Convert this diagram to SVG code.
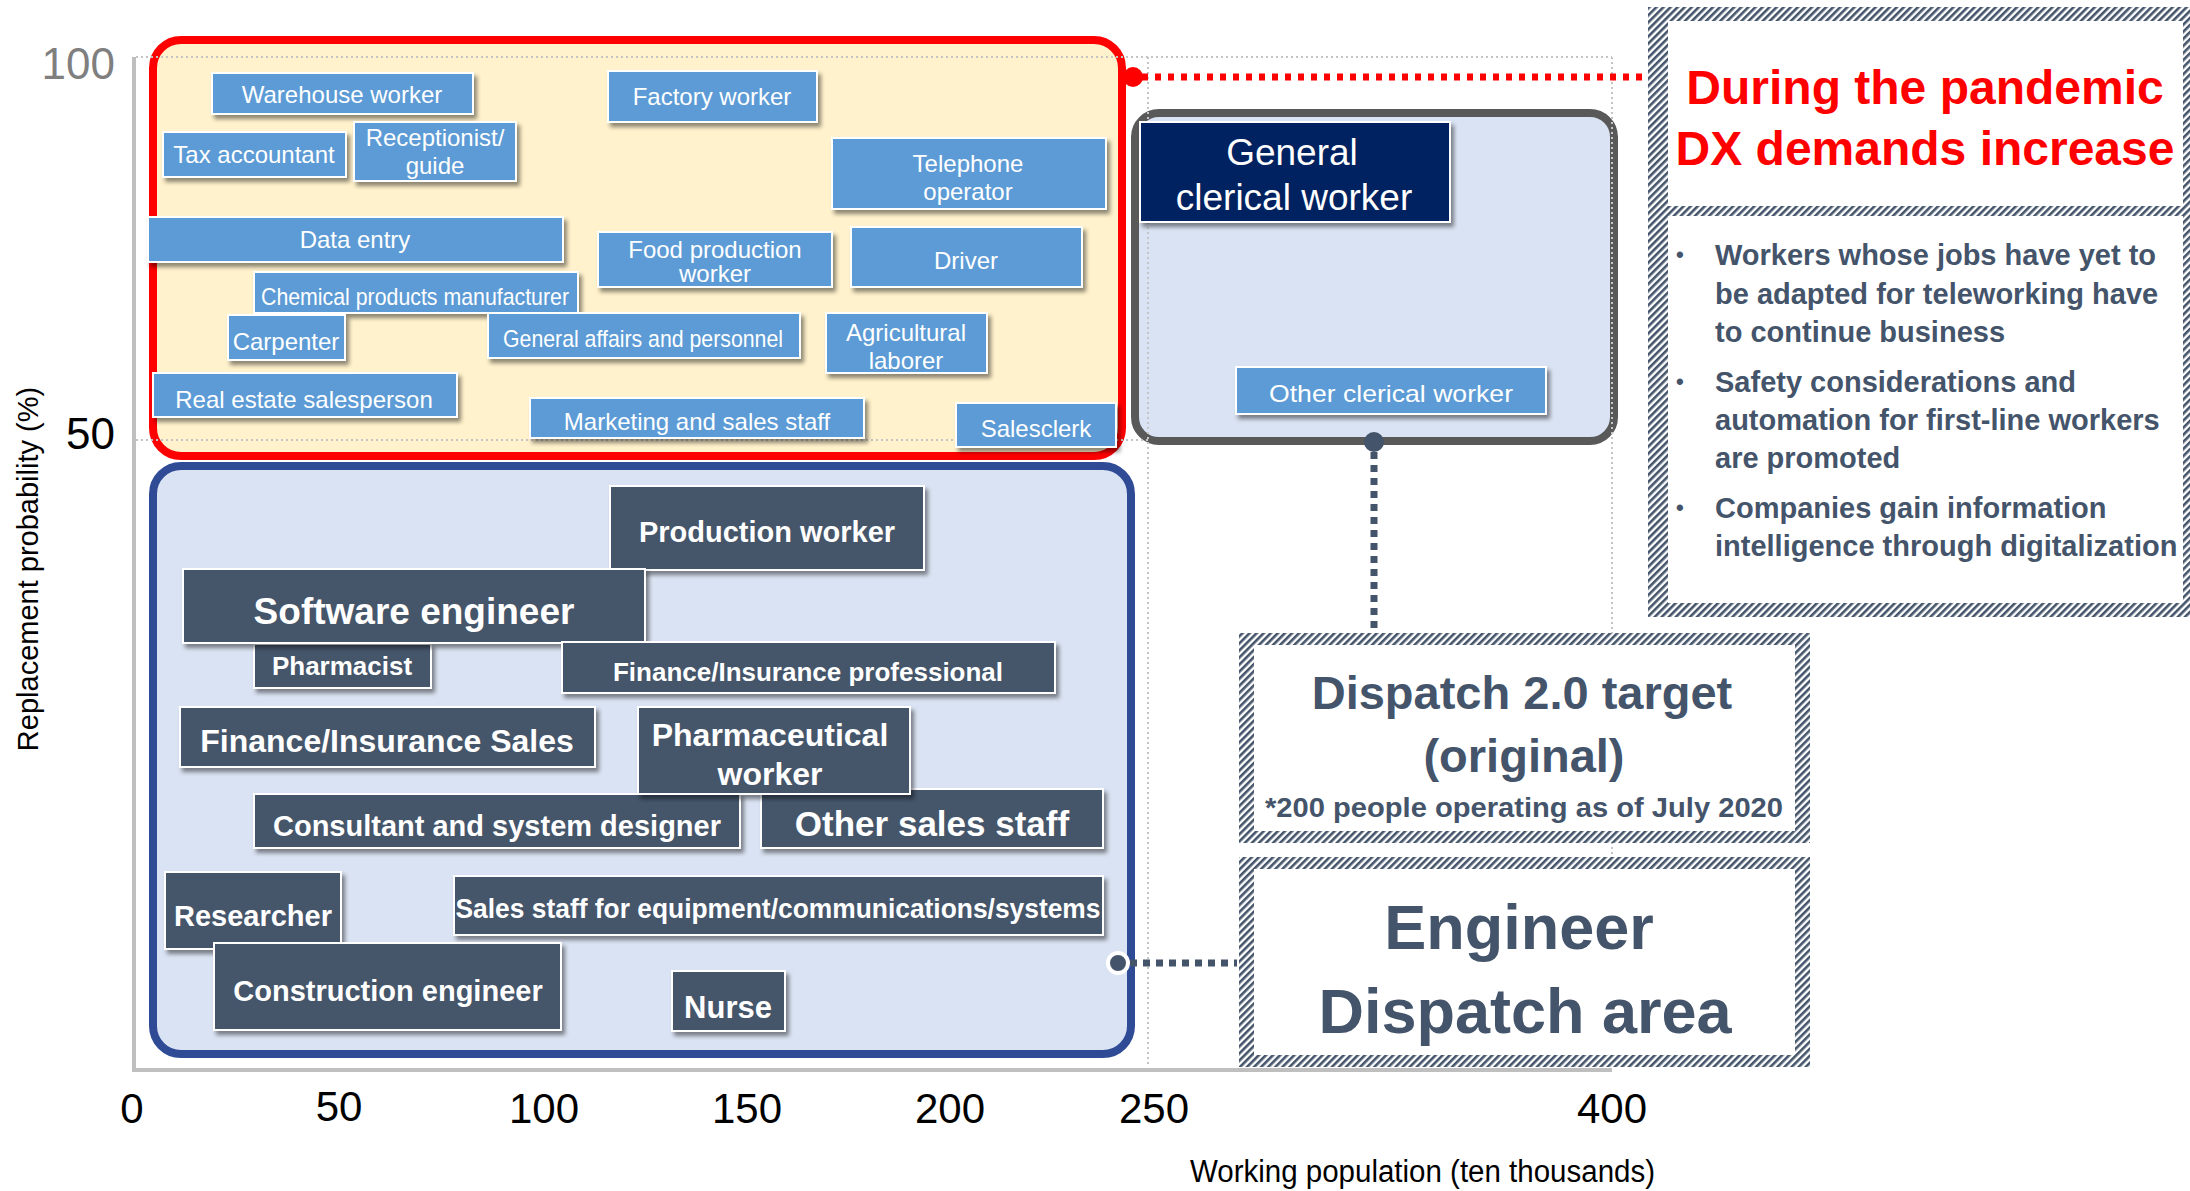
<svg xmlns="http://www.w3.org/2000/svg" width="2190" height="1191" viewBox="0 0 2190 1191">
  <defs>
    <filter id="sh" x="-10%" y="-20%" width="130%" height="160%">
      <feDropShadow dx="3" dy="4" stdDeviation="2" flood-color="#000" flood-opacity="0.45"/>
    </filter>
    <pattern id="hatch" patternUnits="userSpaceOnUse" width="5" height="5" patternTransform="rotate(45)">
      <rect width="5" height="5" fill="#ffffff"/>
      <rect width="2.6" height="5" fill="#44546a"/>
    </pattern>
    <style>
      text { font-family: "Liberation Sans", Arial, sans-serif; }
      .grid { stroke: #c4c4c4; stroke-width: 2; stroke-dasharray: 2 3; fill: none; }
      .axis { stroke: #bfbfbf; stroke-width: 4; fill: none; }
      .lb { fill: #5b9bd5; stroke: #ffffff; stroke-width: 2; filter: url(#sh); }
      .dk { fill: #44546a; stroke: #ffffff; stroke-width: 2; filter: url(#sh); }
      .nv { fill: #002060; stroke: #ffffff; stroke-width: 2; filter: url(#sh); }
      .lt { fill: #ffffff; font-size: 24px; text-anchor: middle; }
      .dt { fill: #ffffff; font-weight: bold; text-anchor: middle; }
      .tick { fill: #000000; font-size: 42px; text-anchor: middle; }
      .slate { fill: #44546a; font-weight: bold; }
      .dash { stroke: #44546a; stroke-width: 7; stroke-dasharray: 7 6; fill: none; }
    </style>
  </defs>

  <!-- axes -->
  <g id="axes">
    <line class="axis" x1="134" y1="57" x2="134" y2="1072"/>
    <line class="axis" x1="132" y1="1070" x2="1612" y2="1070"/>
    <text x="115" y="79" font-size="44" fill="#7f7f7f" text-anchor="end">100</text>
    <text x="115" y="449" font-size="44" fill="#000000" text-anchor="end">50</text>
    <text class="tick" x="132" y="1123">0</text>
    <text class="tick" x="339" y="1121">50</text>
    <text class="tick" x="544" y="1123">100</text>
    <text class="tick" x="747" y="1123">150</text>
    <text class="tick" x="950" y="1123">200</text>
    <text class="tick" x="1154" y="1123">250</text>
    <text class="tick" x="1612" y="1123">400</text>
    <text x="38" y="569" font-size="29" fill="#000000" text-anchor="middle" transform="rotate(-90 38 569)">Replacement probability (%)</text>
    <text x="1190" y="1182" font-size="31" fill="#000000" textLength="465" lengthAdjust="spacingAndGlyphs">Working population (ten thousands)</text>
  </g>

  <!-- regions -->
  <g id="region-high">
    <rect x="153" y="40" width="969" height="416" rx="28" fill="#fff2cc" stroke="#ff0000" stroke-width="8"/>
  </g>
  <g id="region-low">
    <rect x="153" y="466" width="978" height="588" rx="28" fill="#dae3f3" stroke="#2f4b96" stroke-width="8"/>
  </g>
  <g id="region-clerical">
    <rect x="1135" y="113" width="479" height="328" rx="24" fill="#dae3f3" stroke="#595959" stroke-width="8"/>
  </g>

  <!-- grid -->
  <g id="grid">
    <line class="grid" x1="136" y1="57" x2="1612" y2="57"/>
    <line class="grid" x1="136" y1="440" x2="1148" y2="440"/>
    <line class="grid" x1="1148" y1="57" x2="1148" y2="1066"/>
    <line class="grid" x1="1612" y1="57" x2="1612" y2="1066"/>
  </g>

  <!-- connectors -->
  <g id="connectors">
    <line x1="1142" y1="77" x2="1648" y2="77" stroke="#ff0000" stroke-width="7" stroke-dasharray="6 7"/>
    <circle cx="1133" cy="77" r="10" fill="#ff0000"/>
    <line class="dash" x1="1374" y1="452" x2="1374" y2="632"/>
    <circle cx="1374" cy="442" r="10" fill="#44546a"/>
    <line class="dash" x1="1130" y1="963" x2="1237" y2="963"/>
    <circle cx="1118" cy="963" r="10" fill="#44546a" stroke="#ffffff" stroke-width="4"/>
  </g>

  <!-- high replacement probability occupations -->
  <g id="n-warehouse"><rect class="lb" x="212" y="73" width="261" height="41"/><text class="lt" x="342" y="103">Warehouse worker</text></g>
  <g id="n-tax"><rect class="lb" x="163" y="132" width="183" height="45"/><text class="lt" x="254" y="163">Tax accountant</text></g>
  <g id="n-reception"><rect class="lb" x="354" y="122" width="162" height="59"/><text class="lt"><tspan x="435" y="146">Receptionist/</tspan><tspan x="435" y="174">guide</tspan></text></g>
  <g id="n-factory"><rect class="lb" x="608" y="71" width="209" height="51"/><text class="lt" x="712" y="105">Factory worker</text></g>
  <g id="n-telephone"><rect class="lb" x="832" y="138" width="274" height="71"/><text class="lt"><tspan x="968" y="172">Telephone</tspan><tspan x="968" y="200">operator</tspan></text></g>
  <g id="n-data"><rect class="lb" x="148" y="217" width="415" height="45"/><text class="lt" x="355" y="248">Data entry</text></g>
  <g id="n-food"><rect class="lb" x="598" y="232" width="234" height="55"/><text class="lt"><tspan x="715" y="258">Food production</tspan><tspan x="715" y="282">worker</tspan></text></g>
  <g id="n-driver"><rect class="lb" x="851" y="227" width="231" height="60"/><text class="lt" x="966" y="269">Driver</text></g>
  <g id="n-chemical"><rect class="lb" x="254" y="272" width="324" height="41"/><text class="lt" x="415" y="305" font-size="21" textLength="308" lengthAdjust="spacingAndGlyphs">Chemical products manufacturer</text></g>
  <g id="n-carpenter"><rect class="lb" x="228" y="315" width="117" height="45"/><text class="lt" x="286" y="350">Carpenter</text></g>
  <g id="n-general-affairs"><rect class="lb" x="488" y="313" width="312" height="45"/><text class="lt" x="643" y="347" font-size="21" textLength="280" lengthAdjust="spacingAndGlyphs">General affairs and personnel</text></g>
  <g id="n-agri"><rect class="lb" x="826" y="313" width="161" height="60"/><text class="lt"><tspan x="906" y="341">Agricultural</tspan><tspan x="906" y="369">laborer</tspan></text></g>
  <g id="n-realestate"><rect class="lb" x="153" y="373" width="304" height="44"/><text class="lt" x="304" y="408">Real estate salesperson</text></g>
  <g id="n-marketing"><rect class="lb" x="530" y="398" width="334" height="40"/><text class="lt" x="697" y="430">Marketing and sales staff</text></g>
  <g id="n-salesclerk"><rect class="lb" x="956" y="403" width="160" height="44"/><text class="lt" x="1036" y="437">Salesclerk</text></g>

  <!-- clerical occupations -->
  <g id="n-general-clerical"><rect class="nv" x="1140" y="122" width="310" height="100"/><text fill="#ffffff" font-size="37" text-anchor="middle"><tspan x="1292" y="165">General</tspan><tspan x="1294" y="210">clerical worker</tspan></text></g>
  <g id="n-other-clerical"><rect class="lb" x="1236" y="367" width="310" height="47"/><text class="lt" x="1391" y="402" font-size="26" textLength="244" lengthAdjust="spacingAndGlyphs">Other clerical worker</text></g>

  <!-- low replacement probability occupations -->
  <g id="n-production"><rect class="dk" x="610" y="486" width="314" height="84"/><text class="dt" x="767" y="542" font-size="29">Production worker</text></g>
  <g id="n-pharmacist"><rect class="dk" x="254" y="644" width="177" height="44"/><text class="dt" x="342" y="675" font-size="26">Pharmacist</text></g>
  <g id="n-software"><rect class="dk" x="183" y="569" width="462" height="74"/><text class="dt" x="414" y="624" font-size="37">Software engineer</text></g>
  <g id="n-fi-pro"><rect class="dk" x="562" y="642" width="493" height="51"/><text class="dt" x="808" y="681" font-size="26">Finance/Insurance professional</text></g>
  <g id="n-fi-sales"><rect class="dk" x="180" y="707" width="415" height="60"/><text class="dt" x="387" y="752" font-size="32">Finance/Insurance Sales</text></g>
  <g id="n-consultant"><rect class="dk" x="254" y="794" width="486" height="54"/><text class="dt" x="497" y="836" font-size="29">Consultant and system designer</text></g>
  <g id="n-other-sales"><rect class="dk" x="761" y="789" width="342" height="59"/><text class="dt" x="932" y="836" font-size="35">Other sales staff</text></g>
  <g id="n-pharma-worker"><rect class="dk" x="638" y="707" width="272" height="87"/><text class="dt" font-size="32"><tspan x="770" y="746">Pharmaceutical</tspan><tspan x="770" y="785">worker</tspan></text></g>
  <g id="n-researcher"><rect class="dk" x="165" y="872" width="176" height="77"/><text class="dt" x="253" y="926" font-size="29">Researcher</text></g>
  <g id="n-sales-equip"><rect class="dk" x="454" y="876" width="649" height="59"/><text class="dt" x="778" y="918" font-size="27" textLength="645" lengthAdjust="spacingAndGlyphs">Sales staff for equipment/communications/systems</text></g>
  <g id="n-construction"><rect class="dk" x="214" y="943" width="347" height="87"/><text class="dt" x="388" y="1001" font-size="29">Construction engineer</text></g>
  <g id="n-nurse"><rect class="dk" x="672" y="971" width="113" height="60"/><text class="dt" x="728" y="1018" font-size="31">Nurse</text></g>

  <!-- pandemic note -->
  <g id="pandemic-note">
    <rect x="1648" y="7" width="560" height="610" fill="url(#hatch)"/>
    <rect x="1668" y="21" width="515" height="185" fill="#ffffff"/>
    <rect x="1668" y="216" width="515" height="387" fill="#ffffff"/>
    <text fill="#ff0000" font-size="48" font-weight="bold" text-anchor="middle"><tspan x="1925" y="104">During the pandemic</tspan><tspan x="1925" y="165">DX demands increase</tspan></text>
    <g class="slate" font-size="29">
      <text x="1676" y="262" font-size="22">•</text>
      <text x="1676" y="389" font-size="22">•</text>
      <text x="1676" y="515" font-size="22">•</text>
      <text x="1715" y="265">Workers whose jobs have yet to</text>
      <text x="1715" y="304">be adapted for teleworking have</text>
      <text x="1715" y="342">to continue business</text>
      <text x="1715" y="392">Safety considerations and</text>
      <text x="1715" y="430">automation for first-line workers</text>
      <text x="1715" y="468">are promoted</text>
      <text x="1715" y="518">Companies gain information</text>
      <text x="1715" y="556">intelligence through digitalization</text>
    </g>
  </g>

  <!-- dispatch target -->
  <g id="dispatch-target">
    <rect x="1239" y="633" width="571" height="210" fill="url(#hatch)"/>
    <rect x="1254" y="645" width="541" height="186" fill="#ffffff"/>
    <text class="slate" text-anchor="middle" font-size="47"><tspan x="1522" y="709">Dispatch 2.0 target</tspan><tspan x="1524" y="772">(original)</tspan></text>
    <text class="slate" x="1524" y="817" font-size="28" text-anchor="middle" textLength="518" lengthAdjust="spacingAndGlyphs">*200 people operating as of July 2020</text>
  </g>

  <!-- engineer dispatch area -->
  <g id="engineer-dispatch">
    <rect x="1239" y="857" width="571" height="210" fill="url(#hatch)"/>
    <rect x="1254" y="869" width="541" height="186" fill="#ffffff"/>
    <text class="slate" text-anchor="middle" font-size="63"><tspan x="1519" y="949">Engineer</tspan><tspan x="1525" y="1033">Dispatch area</tspan></text>
  </g>
</svg>
